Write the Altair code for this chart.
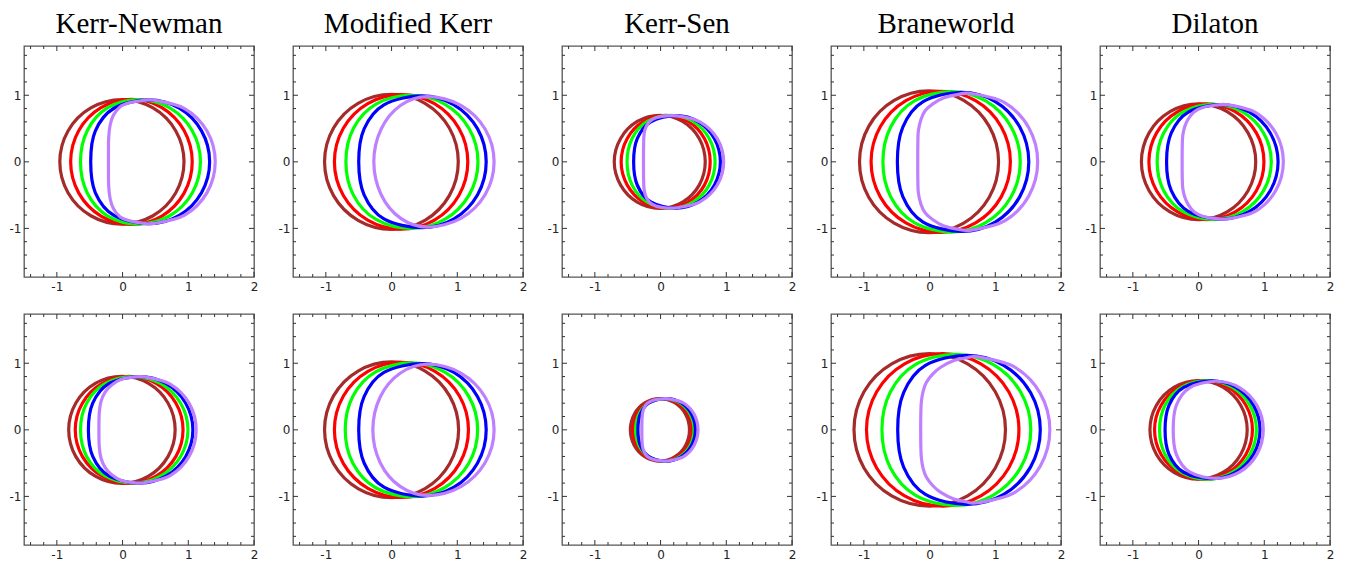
import altair as alt
import pandas as pd

titles = ["Kerr-Newman", "Modified Kerr", "Kerr-Sen", "Braneworld", "Dilaton"]
series = ["brown", "red", "green", "blue", "purple"]
colors = ["#a52a2a", "#ff0000", "#00ff00", "#0000ff", "#bf80ff"]

x_major = [-1, 0, 1, 2]
x_minor = [-1.4, -1.2, -0.8, -0.6, -0.4, -0.2, 0.2, 0.4, 0.6, 0.8, 1.2, 1.4, 1.6, 1.8]
y_major = [-1, 0, 1]
y_minor = [-1.6, -1.4, -1.2, -0.8, -0.6, -0.4, -0.2, 0.2, 0.4, 0.6, 0.8, 1.2, 1.4, 1.6]

# upper halves of each shadow contour (x, y); lower half is the mirror image
kn_top = [
    [(-0.955, 0), (-0.828, 0.468), (-0.483, 0.81), (-0.01, 0.935), (0.463, 0.81), (0.808, 0.468), (0.935, 0)],
    [(-0.79, 0), (-0.666, 0.47), (-0.328, 0.814), (0.135, 0.94), (0.598, 0.814), (0.936, 0.47), (1.06, 0)],
    [(-0.64, 0), (-0.538, 0.468), (-0.231, 0.81), (0.25, 0.935), (0.718, 0.81), (1.06, 0.468), (1.185, 0)],
    [(-0.485, 0), (-0.414, 0.465), (-0.131, 0.805), (0.40, 0.93), (0.863, 0.805), (1.201, 0.465), (1.325, 0)],
    [(-0.215, 0), (-0.212, 0.35), (-0.19, 0.55), (-0.14, 0.70), (-0.04, 0.825), (0.115, 0.89), (0.30, 0.92),
     (0.48, 0.925), (0.945, 0.80), (1.285, 0.463), (1.41, 0)],
]
mk_top = [
    [(-1.02, 0), (-0.883, 0.508), (-0.51, 0.879), (0.0, 1.015), (0.508, 0.879), (0.879, 0.508), (1.015, 0)],
    [(-0.87, 0), (-0.734, 0.505), (-0.363, 0.875), (0.145, 1.01), (0.653, 0.875), (1.024, 0.505), (1.16, 0)],
    [(-0.695, 0), (-0.581, 0.5), (-0.237, 0.866), (0.30, 1.0), (0.808, 0.866), (1.179, 0.5), (1.315, 0)],
    [(-0.50, 0), (-0.418, 0.495), (-0.116, 0.857), (0.46, 0.99), (0.95, 0.857), (1.309, 0.495), (1.44, 0)],
    [(-0.27, 0), (-0.16, 0.49), (0.14, 0.85), (0.55, 0.98), (1.055, 0.849), (1.425, 0.49), (1.56, 0)],
]
ks_top = [
    [(-0.705, 0), (-0.608, 0.35), (-0.355, 0.606), (-0.01, 0.70), (0.335, 0.606), (0.588, 0.35), (0.68, 0)],
    [(-0.60, 0), (-0.507, 0.35), (-0.259, 0.606), (0.08, 0.70), (0.419, 0.606), (0.667, 0.35), (0.755, 0)],
    [(-0.51, 0), (-0.433, 0.35), (-0.202, 0.606), (0.16, 0.70), (0.495, 0.606), (0.74, 0.35), (0.83, 0)],
    [(-0.41, 0), (-0.355, 0.348), (-0.15, 0.602), (0.24, 0.695), (0.575, 0.602), (0.82, 0.348), (0.91, 0)],
    [(-0.26, 0), (-0.258, 0.25), (-0.25, 0.42), (-0.21, 0.55), (-0.13, 0.635), (0.0, 0.68), (0.25, 0.69),
     (0.605, 0.598), (0.865, 0.345), (0.96, 0)],
]
bw_top = [
    [(-1.066, 0), (-0.926, 0.533), (-0.539, 0.922), (-0.01, 1.065), (0.519, 0.922), (0.908, 0.533), (1.05, 0)],
    [(-0.89, 0), (-0.748, 0.53), (-0.36, 0.918), (0.17, 1.06), (0.70, 0.918), (1.088, 0.53), (1.23, 0)],
    [(-0.71, 0), (-0.59, 0.528), (-0.232, 0.914), (0.33, 1.055), (0.855, 0.914), (1.239, 0.528), (1.38, 0)],
    [(-0.49, 0), (-0.407, 0.523), (-0.098, 0.905), (0.49, 1.045), (1.0, 0.905), (1.373, 0.523), (1.51, 0)],
    [(-0.18, 0), (-0.178, 0.3), (-0.17, 0.47), (-0.13, 0.64), (-0.065, 0.77), (0.05, 0.87), (0.21, 0.96),
     (0.42, 1.01), (0.64, 1.025), (1.143, 0.888), (1.51, 0.513), (1.645, 0)],
]
dil_top = [
    [(-0.87, 0), (-0.753, 0.435), (-0.435, 0.753), (0.0, 0.87), (0.435, 0.753), (0.753, 0.435), (0.87, 0)],
    [(-0.756, 0), (-0.639, 0.435), (-0.318, 0.753), (0.12, 0.87), (0.558, 0.753), (0.879, 0.435), (0.995, 0)],
    [(-0.63, 0), (-0.531, 0.433), (-0.234, 0.749), (0.23, 0.865), (0.669, 0.749), (0.989, 0.433), (1.107, 0)],
    [(-0.487, 0), (-0.417, 0.43), (-0.156, 0.745), (0.34, 0.86), (0.775, 0.745), (1.093, 0.43), (1.21, 0)],
    [(-0.25, 0), (-0.248, 0.25), (-0.24, 0.4), (-0.21, 0.53), (-0.16, 0.64), (-0.07, 0.75), (0.07, 0.82),
     (0.25, 0.85), (0.45, 0.855), (0.87, 0.74), (1.177, 0.428), (1.29, 0)],
]
kn_bot = [
    [(-0.82, 0), (-0.711, 0.403), (-0.415, 0.697), (-0.01, 0.805), (0.395, 0.697), (0.691, 0.403), (0.80, 0)],
    [(-0.72, 0), (-0.61, 0.403), (-0.31, 0.697), (0.10, 0.805), (0.51, 0.697), (0.81, 0.403), (0.92, 0)],
    [(-0.64, 0), (-0.547, 0.4), (-0.267, 0.693), (0.17, 0.80), (0.583, 0.693), (0.884, 0.4), (0.995, 0)],
    [(-0.52, 0), (-0.454, 0.4), (-0.208, 0.693), (0.26, 0.80), (0.665, 0.693), (0.961, 0.4), (1.07, 0)],
    [(-0.36, 0), (-0.355, 0.25), (-0.33, 0.42), (-0.27, 0.56), (-0.17, 0.67), (-0.02, 0.76), (0.15, 0.79),
     (0.33, 0.795), (0.725, 0.688), (1.014, 0.398), (1.12, 0)],
]
mk_bot = [
    [(-1.02, 0), (-0.883, 0.51), (-0.51, 0.883), (0.0, 1.02), (0.51, 0.883), (0.883, 0.51), (1.02, 0)],
    [(-0.87, 0), (-0.733, 0.508), (-0.36, 0.879), (0.15, 1.015), (0.66, 0.879), (1.033, 0.508), (1.17, 0)],
    [(-0.705, 0), (-0.589, 0.503), (-0.243, 0.87), (0.30, 1.005), (0.805, 0.87), (1.175, 0.503), (1.31, 0)],
    [(-0.50, 0), (-0.418, 0.498), (-0.116, 0.862), (0.46, 0.995), (0.95, 0.862), (1.309, 0.498), (1.44, 0)],
    [(-0.285, 0), (-0.175, 0.49), (0.13, 0.85), (0.55, 0.985), (1.055, 0.853), (1.425, 0.49), (1.56, 0)],
]
ks_bot = [
    [(-0.46, 0), (-0.40, 0.235), (-0.235, 0.407), (-0.01, 0.47), (0.215, 0.407), (0.38, 0.235), (0.44, 0)],
    [(-0.42, 0), (-0.36, 0.235), (-0.195, 0.407), (0.03, 0.47), (0.255, 0.407), (0.42, 0.235), (0.48, 0)],
    [(-0.38, 0), (-0.329, 0.235), (-0.175, 0.407), (0.065, 0.47), (0.288, 0.407), (0.45, 0.235), (0.51, 0)],
    [(-0.345, 0), (-0.308, 0.235), (-0.171, 0.407), (0.09, 0.47), (0.31, 0.407), (0.471, 0.235), (0.53, 0)],
    [(-0.285, 0), (-0.283, 0.15), (-0.275, 0.25), (-0.25, 0.33), (-0.20, 0.40), (-0.11, 0.445), (0.0, 0.462),
     (0.13, 0.465), (0.35, 0.403), (0.511, 0.233), (0.57, 0)],
]
bw_bot = [
    [(-1.15, 0), (-0.998, 0.573), (-0.576, 0.992), (0.0, 1.145), (0.578, 0.992), (1.0, 0.573), (1.155, 0)],
    [(-0.96, 0), (-0.805, 0.573), (-0.38, 0.992), (0.2, 1.145), (0.78, 0.992), (1.205, 0.573), (1.36, 0)],
    [(-0.725, 0), (-0.597, 0.568), (-0.212, 0.983), (0.39, 1.135), (0.965, 0.983), (1.386, 0.568), (1.54, 0)],
    [(-0.485, 0), (-0.395, 0.56), (-0.063, 0.97), (0.57, 1.12), (1.128, 0.97), (1.536, 0.56), (1.685, 0)],
    [(-0.135, 0), (-0.133, 0.25), (-0.125, 0.42), (-0.10, 0.57), (-0.05, 0.71), (0.05, 0.84), (0.17, 0.94),
     (0.37, 1.04), (0.55, 1.08), (0.74, 1.095), (1.285, 0.948), (1.684, 0.548), (1.83, 0)],
]
dil_bot = [
    [(-0.74, 0), (-0.641, 0.37), (-0.37, 0.641), (0.0, 0.74), (0.37, 0.641), (0.641, 0.37), (0.74, 0)],
    [(-0.67, 0), (-0.57, 0.37), (-0.298, 0.641), (0.075, 0.74), (0.448, 0.641), (0.72, 0.37), (0.82, 0)],
    [(-0.594, 0), (-0.51, 0.37), (-0.256, 0.641), (0.14, 0.74), (0.51, 0.641), (0.781, 0.37), (0.88, 0)],
    [(-0.51, 0), (-0.45, 0.368), (-0.226, 0.637), (0.2, 0.735), (0.568, 0.637), (0.837, 0.368), (0.935, 0)],
    [(-0.386, 0), (-0.34, 0.365), (-0.137, 0.632), (0.27, 0.73), (0.628, 0.632), (0.889, 0.365), (0.985, 0)],
]

top_row = [kn_top, mk_top, ks_top, bw_top, dil_top]
bottom_row = [kn_bot, mk_bot, ks_bot, bw_bot, dil_bot]

W, H = 230, 231
TICK = "#333333"
LABEL_EXPR = "datum.value < 0 ? '-' + abs(datum.value) : '' + datum.value"


def curve_table(curves):
    rows = []
    for name, upper in zip(series, curves):
        loop = list(upper) + [(x, -y) for (x, y) in reversed(upper[1:-1])]
        for k, (x, y) in enumerate(loop):
            rows.append({"curve": name, "k": k, "x": x, "y": y})
    return pd.DataFrame(rows)


x_axis = alt.Axis(values=x_major, ticks=False, domain=False, grid=False, labelFont="DejaVu Sans",
                  labelFontSize=12, labelColor="#222222", labelPadding=4, labelFlush=False,
                  labelExpr=LABEL_EXPR, title=None)
y_axis = alt.Axis(values=y_major, ticks=False, domain=False, grid=False, labelFont="DejaVu Sans",
                  labelFontSize=12, labelColor="#222222", labelPadding=3, labelFlush=False,
                  labelExpr=LABEL_EXPR, title=None)
x_scale = alt.Scale(domain=[-1.5, 2.0], nice=False, zero=False)
y_scale = alt.Scale(domain=[-1.73, 1.74], nice=False, zero=False)


def panel(curves, title=None):
    xe = alt.X("x:Q", scale=x_scale, axis=x_axis)
    ye = alt.Y("y:Q", scale=y_scale, axis=y_axis)
    lines = alt.Chart(curve_table(curves)).mark_line(
        interpolate="cardinal-closed", strokeWidth=3.2
    ).encode(
        x=xe, y=ye,
        color=alt.Color("curve:N", scale=alt.Scale(domain=series, range=colors), legend=None),
        detail="curve:N",
        order="k:Q",
    )
    layers = [lines]
    for vals, ln in ((x_major, 5), (x_minor, 3)):
        base = alt.Chart(pd.DataFrame({"x": vals})).mark_rule(color=TICK, strokeWidth=1)
        layers.append(base.encode(x=xe, y=alt.value(H), y2=alt.value(H - ln)))
        layers.append(base.encode(x=xe, y=alt.value(0), y2=alt.value(ln)))
    for vals, ln in ((y_major, 5), (y_minor, 3)):
        base = alt.Chart(pd.DataFrame({"y": vals})).mark_rule(color=TICK, strokeWidth=1)
        layers.append(base.encode(y=ye, x=alt.value(0), x2=alt.value(ln)))
        layers.append(base.encode(y=ye, x=alt.value(W), x2=alt.value(W - ln)))
    ch = alt.layer(*layers).properties(width=W, height=H)
    if title:
        ch = ch.properties(title=alt.TitleParams(title, font="Liberation Serif", fontSize=29,
                                                 fontWeight="normal", color="#000000",
                                                 offset=7, anchor="middle"))
    return ch


panels = [panel(c, t) for c, t in zip(top_row, titles)] + [panel(c) for c in bottom_row]

chart = alt.concat(*panels, columns=5, spacing={"row": 37, "column": 39}, bounds="flush")
chart = chart.properties(padding={"left": 0, "top": 0, "right": 5, "bottom": 5}).configure_view(
    stroke="#555555", strokeWidth=1.3
)

chart.save("out.html", embed_options={"renderer": "svg", "actions": False})
